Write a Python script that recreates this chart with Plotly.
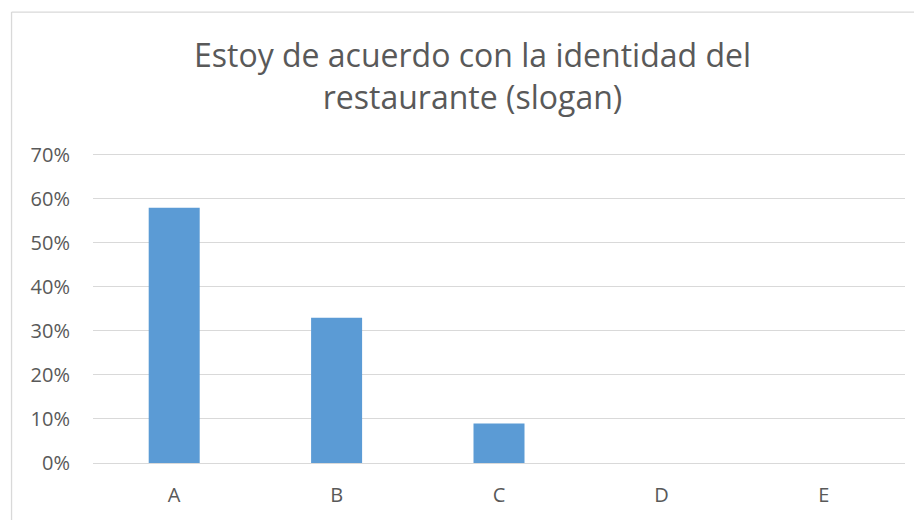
import plotly.graph_objects as go

categories = ["A", "B", "C", "D", "E"]
values = [0.58, 0.33, 0.09, 0.0, 0.0]
y_ticks = [0, 0.1, 0.2, 0.3, 0.4, 0.5, 0.6, 0.7]
y_tick_labels = ["0%", "10%", "20%", "30%", "40%", "50%", "60%", "70%"]
title_text = "Estoy de acuerdo con la identidad del<br>restaurante (slogan)"

FONT = "Open Sans"
GREY = "#595959"
GRID = "#D9D9D9"

fig = go.Figure(go.Bar(x=categories, y=values, marker=dict(color="#5B9BD5", line=dict(width=0))))

# page body has 8px margin -> figure origin is at screen (8, 8)
W, H = 922, 520
L, R, T, B = 85, 24.5, 137.7, 64.7
pw, ph = W - L - R, H - T - B

fig.update_layout(
    width=W, height=H,
    margin=dict(l=L, r=R, t=T, b=B, pad=0),
    paper_bgcolor="white", plot_bgcolor="white",
    bargap=0.686,
    showlegend=False,
    title=dict(text=title_text, x=464.5 / W, xanchor="center", xref="container",
               y=1 - 59 / H, yanchor="top", yref="container",
               font=dict(family=FONT, size=32, color=GREY)),
    font=dict(family=FONT, color=GREY),
    xaxis=dict(showgrid=False, showline=False, zeroline=False,
               ticks="outside", ticklen=14, tickcolor="rgba(0,0,0,0)",
               tickfont=dict(family=FONT, size=20, color=GREY)),
    yaxis=dict(range=[0, 0.72], tickvals=y_ticks, ticktext=y_tick_labels,
               showgrid=True, gridcolor=GRID, gridwidth=1.3,
               zeroline=True, zerolinecolor=GRID, zerolinewidth=1.3,
               showline=False, ticks="outside", ticklen=18, tickcolor="rgba(0,0,0,0)",
               tickfont=dict(family=FONT, size=20, color=GREY)),
)

# chart-area border (top and left edges visible)
bx = (3.5 - L) / pw
by = (H - B - 3.5) / ph
fig.add_shape(type="line", xref="paper", yref="paper", x0=bx, x1=(W - L) / pw, y0=by, y1=by,
              line=dict(color=GRID, width=1.3), layer="above")
fig.add_shape(type="line", xref="paper", yref="paper", x0=bx, x1=bx, y0=-B / ph, y1=by,
              line=dict(color=GRID, width=1.3), layer="above")

fig.write_html("out.html")
